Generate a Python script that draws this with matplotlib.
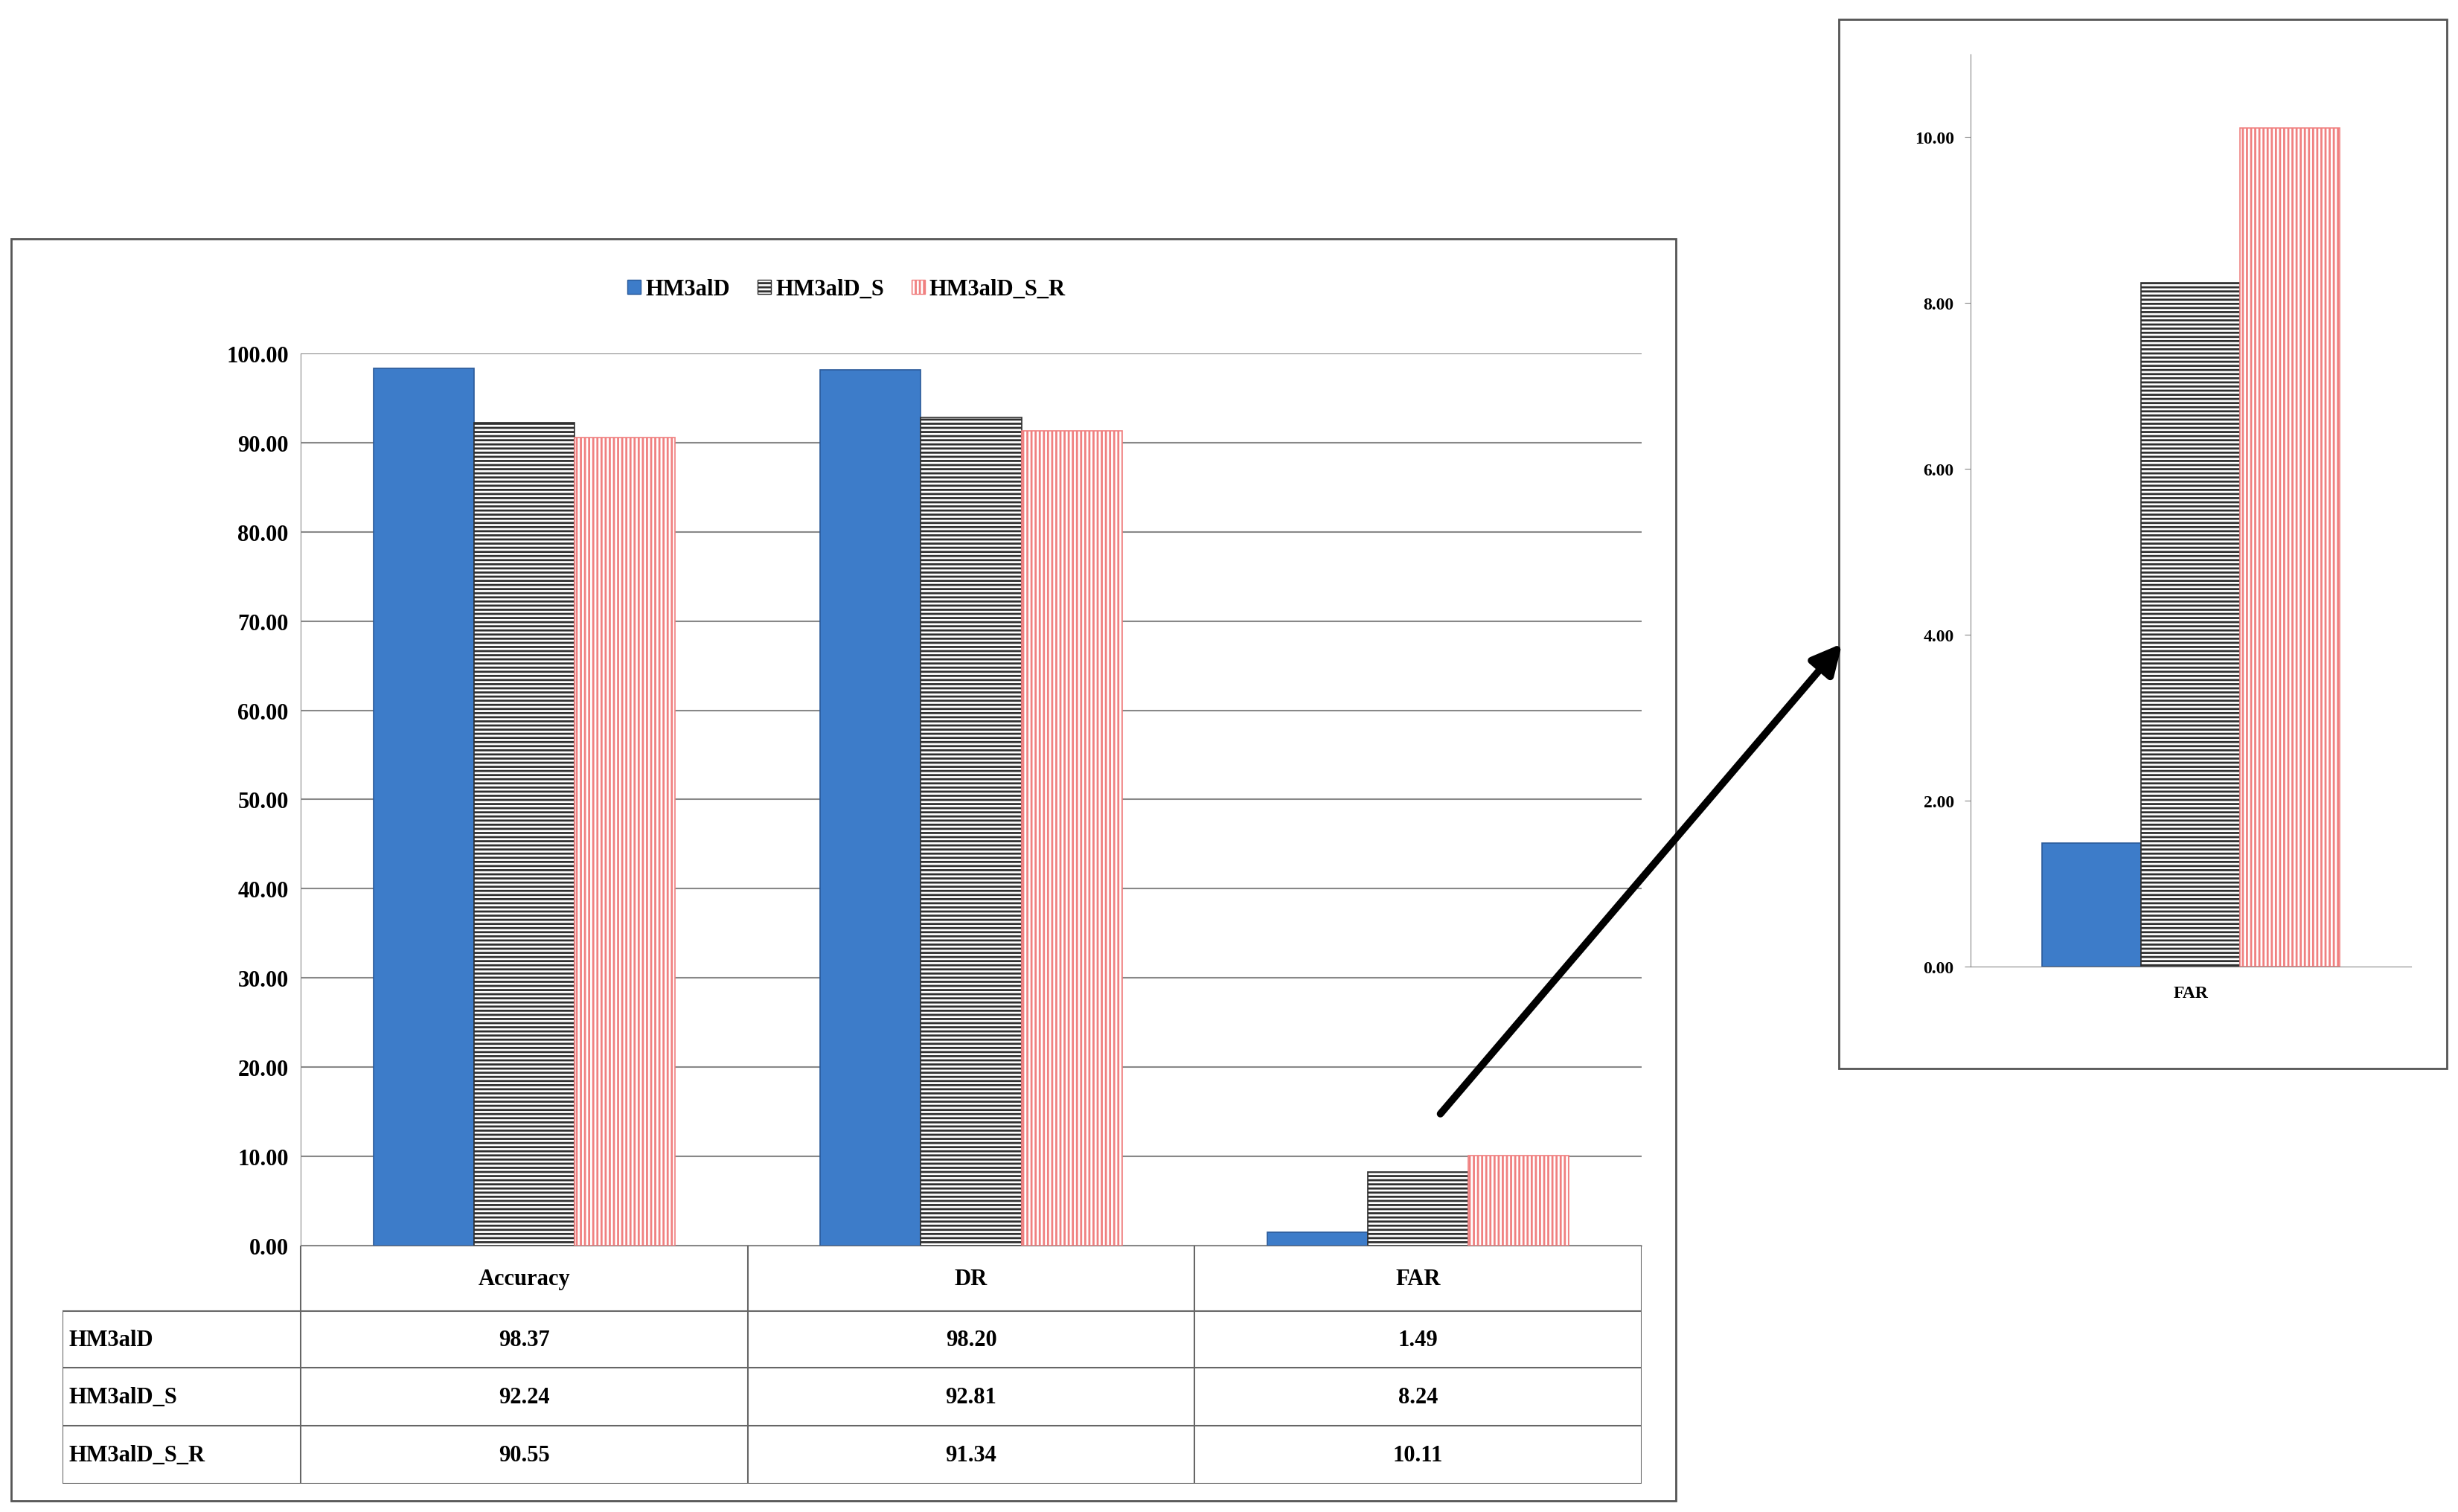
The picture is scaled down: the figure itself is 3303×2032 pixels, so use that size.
import numpy as np
import matplotlib
matplotlib.use("Agg")
import matplotlib.pyplot as plt
from matplotlib.patches import Rectangle, Patch

plt.rcParams.update({
    "font.family": ["Liberation Serif", "DejaVu Serif"],
    "font.weight": "bold",
    "hatch.linewidth": 2.0,
})

categories = ["Accuracy", "DR", "FAR"]
series = ["HM3alD", "HM3alD_S", "HM3alD_S_R"]
vals_hm = [98.37, 98.20, 1.49]
vals_s = [92.24, 92.81, 8.24]
vals_sr = [90.55, 91.34, 10.11]
main_ticks = [0, 10, 20, 30, 40, 50, 60, 70, 80, 90, 100]
zoom_ticks = [0, 2, 4, 6, 8, 10]

W, H = 1568.0, 965.0  # reference pixel frame used for layout


def rect(x0, y0, x1, y1):
    return [x0 / W, 1 - y1 / H, (x1 - x0) / W, (y1 - y0) / H]


styles = [
    dict(color="#3d7cc9", edgecolor="#2a5a9a", hatch=None),
    dict(color="white", edgecolor="#303030", hatch="---"),
    dict(color="white", edgecolor="#f08080", hatch="|||"),
]
all_vals = [vals_hm, vals_s, vals_sr]

fig = plt.figure(figsize=(33.03, 20.33), dpi=100)

# outer frames
for (x0, y0, x1, y1) in [(7, 153, 1069, 958), (1173, 13, 1561, 682)]:
    fig.add_artist(Rectangle((x0 / W, 1 - y1 / H), (x1 - x0) / W, (y1 - y0) / H,
                             transform=fig.transFigure, fill=False, ec="#555555", lw=2))

# ---- main chart ----
ax = fig.add_axes(rect(192, 226, 1047, 795))
x = np.arange(len(categories))
bw = 0.225
for i, (v, st) in enumerate(zip(all_vals, styles)):
    ax.bar(x + (i - 1) * bw, v, bw, color=st["color"], edgecolor=st["edgecolor"],
           hatch=st["hatch"], lw=1.2, zorder=3)
ax.set_xlim(-0.5, 2.5)
ax.set_ylim(0, 100)
ax.set_yticks(main_ticks)
ax.set_yticklabels([f"{t:.2f}" for t in main_ticks], fontsize=22, fontweight="bold")
ax.set_xticks([])
ax.yaxis.grid(True, color="#888888", lw=1.5, zorder=0)
for s in ["top", "right"]:
    ax.spines[s].set_visible(False)
ax.spines["left"].set_color("#888888")
ax.spines["bottom"].set_color("#888888")
ax.tick_params(axis="y", length=0, pad=12)

# legend
handles = [Patch(facecolor=st["color"], edgecolor=st["edgecolor"], hatch=st["hatch"])
           for st in styles]
fig.legend(handles, series, loc="center", bbox_to_anchor=(540 / W, 1 - 185 / H),
           ncol=3, frameon=False, fontsize=22, handlelength=0.6, handleheight=0.6,
           columnspacing=1.2, handletextpad=0.2)

# ---- data table ----
tx = fig.add_axes(rect(40, 795, 1047, 947))
tx.set_xlim(40, 1047)
tx.set_ylim(947, 795)
tx.axis("off")
cols = [40, 192, 477, 762, 1047]
rows = [795, 837, 873, 910, 947]
lc = "#666666"
for c in cols[1:]:
    tx.plot([c, c], [795, 947], color=lc, lw=1.5)
tx.plot([40, 40], [837, 947], color=lc, lw=1.5)
for r in rows[1:]:
    tx.plot([40, 1047], [r, r], color=lc, lw=1.5)
for j, c in enumerate(categories):
    tx.text((cols[j + 1] + cols[j + 2]) / 2, 816, c, ha="center", va="center", fontsize=22)
for i, (name, v) in enumerate(zip(series, all_vals)):
    ym = (rows[i + 1] + rows[i + 2]) / 2
    tx.text(44, ym, name, ha="left", va="center", fontsize=22)
    for j in range(3):
        tx.text((cols[j + 1] + cols[j + 2]) / 2, ym, f"{v[j]:.2f}",
                ha="center", va="center", fontsize=22)

# ---- zoomed FAR ----
az = fig.add_axes(rect(1257, 35, 1538, 617))
far = [v[2] for v in all_vals]
for i, (v, st) in enumerate(zip(far, styles)):
    az.bar((i - 1) * bw, v, bw, color=st["color"], edgecolor=st["edgecolor"],
           hatch=st["hatch"], lw=1.2, zorder=3)
az.set_xlim(-0.5, 0.5)
az.set_ylim(0, 11)
az.set_yticks(zoom_ticks)
az.set_yticklabels([f"{t:.2f}" for t in zoom_ticks], fontsize=17, fontweight="bold")
az.set_xticks([0])
az.set_xticklabels(["FAR"], fontsize=17, fontweight="bold")
for s in ["top", "right"]:
    az.spines[s].set_visible(False)
az.spines["left"].set_color("#888888")
az.spines["bottom"].set_color("#888888")
az.tick_params(axis="y", direction="out", length=6, color="#888888", pad=10)
az.tick_params(axis="x", length=0, pad=18)

# arrow
fig.add_artist(matplotlib.patches.FancyArrowPatch(
    (918 / W, 1 - 712 / H), (1176 / W, 1 - 410 / H), transform=fig.transFigure,
    arrowstyle="-|>", mutation_scale=60, lw=7, color="black"))

fig.savefig("out.png", dpi=100)
